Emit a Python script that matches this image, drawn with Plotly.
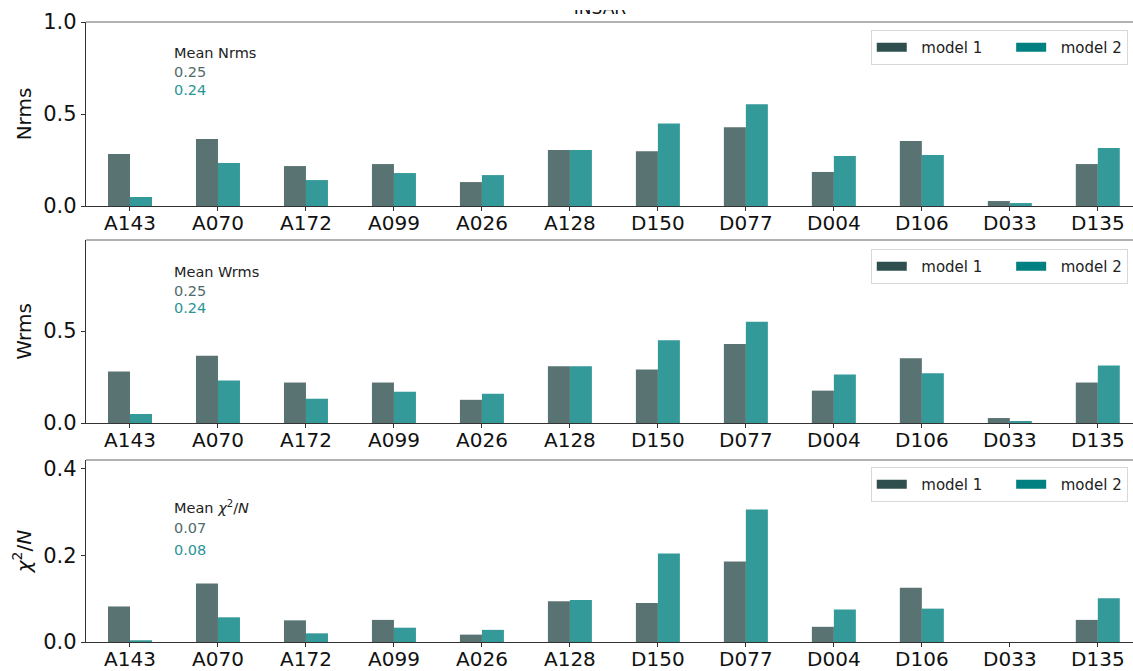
import plotly.graph_objects as go

stations = ["A143", "A070", "A172", "A099", "A026", "A128",
            "D150", "D077", "D004", "D106", "D033", "D135"]

nrms_m1 = [0.283, 0.364, 0.217, 0.228, 0.130, 0.305, 0.297, 0.428, 0.185, 0.353, 0.027, 0.228]
nrms_m2 = [0.049, 0.234, 0.141, 0.179, 0.168, 0.305, 0.449, 0.553, 0.272, 0.277, 0.016, 0.315]

wrms_m1 = [0.280, 0.366, 0.220, 0.220, 0.126, 0.308, 0.291, 0.430, 0.176, 0.352, 0.027, 0.220]
wrms_m2 = [0.049, 0.231, 0.132, 0.170, 0.159, 0.308, 0.450, 0.550, 0.264, 0.270, 0.011, 0.313]

chi2_m1 = [0.082, 0.135, 0.050, 0.051, 0.017, 0.094, 0.090, 0.186, 0.035, 0.125, 0.000, 0.051]
chi2_m2 = [0.004, 0.057, 0.020, 0.033, 0.028, 0.097, 0.204, 0.306, 0.075, 0.077, 0.000, 0.101]

mean_labels = [("Mean Nrms", "0.25", "0.24"),
               ("Mean Wrms", "0.25", "0.24"),
               ("Mean <i>χ</i><sup>2</sup>/<i>N</i>", "0.07", "0.08")]

y_titles = ["Nrms", "Wrms", "<i>χ</i><sup>2</sup>/<i>N</i>"]
y_ranges = [[0, 1.0], [0, 0.995], [0, 0.42]]
y_ticks = [[0, 0.5, 1.0], [0, 0.5], [0, 0.2, 0.4]]

M1_SOLID = "#2f4f4f"
M2_SOLID = "#008080"
M1_BAR = "rgba(47,79,79,0.8)"
M2_BAR = "rgba(0,128,128,0.8)"

W, H = 1133, 671
LEFT = 86
# panel pixel extents (top, bottom)
panels = [(22, 206), (240, 423), (460, 642)]
legend_tops = [30, 249, 467]
text_tops = [(53, 72, 90), (272, 291, 308), (507, 528, 550)]

fig = go.Figure()
font = "DejaVu Sans, sans-serif"

series = [(nrms_m1, nrms_m2), (wrms_m1, wrms_m2), (chi2_m1, chi2_m2)]
layout = {}
shapes = []
annotations = []
plot_w = W - LEFT
NB = "\u00a0\u00a0"
GAP = "\u00a0" * 5

for i, (m1, m2) in enumerate(series):
    n = i + 1
    xa = "x" if n == 1 else f"x{n}"
    ya = "y" if n == 1 else f"y{n}"
    lg = "legend" if n == 1 else f"legend{n}"
    fig.add_trace(go.Bar(x=stations, y=m1, xaxis=xa, yaxis=ya, width=0.25, offset=-0.25,
                         marker=dict(color=M1_BAR, line=dict(width=0)), showlegend=False))
    fig.add_trace(go.Bar(x=stations, y=m2, xaxis=xa, yaxis=ya, width=0.25, offset=0,
                         marker=dict(color=M2_BAR, line=dict(width=0)), showlegend=False))
    fig.add_trace(go.Scatter(x=[None], y=[None], xaxis=xa, yaxis=ya, mode="lines",
                             line=dict(color=M1_SOLID, width=9), name=NB + "model 1" + GAP,
                             legend=lg))
    fig.add_trace(go.Scatter(x=[None], y=[None], xaxis=xa, yaxis=ya, mode="lines",
                             line=dict(color=M2_SOLID, width=9), name=NB + "model 2",
                             legend=lg))

    top, bot = panels[i]
    dom = [1 - bot / H, 1 - top / H]
    xkey = "xaxis" if n == 1 else f"xaxis{n}"
    ykey = "yaxis" if n == 1 else f"yaxis{n}"
    layout[xkey] = dict(domain=[0, 1], anchor=ya, type="category", range=[-0.5, 11.4],
                        showline=True, linecolor="#333", linewidth=1.3,
                        ticks="outside", ticklen=4, tickcolor="#333",
                        tickfont=dict(size=20, color="#111", family=font),
                        ticklabelstandoff=-5,
                        showgrid=False, zeroline=False, fixedrange=True, automargin=False)
    layout[ykey] = dict(domain=dom, anchor=xa, range=y_ranges[i], tickvals=y_ticks[i],
                        tickformat=".1f", showline=True, linecolor="#333", linewidth=1.3,
                        ticks="outside", ticklen=4, tickcolor="#333",
                        tickfont=dict(size=21, color="#111", family=font),
                        title=dict(text=y_titles[i], font=dict(size=20, color="#111", family=font),
                                   standoff=6),
                        showgrid=False, zeroline=False, automargin=False)
    layout[lg] = dict(x=0.995, xanchor="right", y=1 - legend_tops[i] / H, yanchor="top",
                      orientation="h", bgcolor="rgba(255,255,255,0.8)",
                      bordercolor="#d8d8d8", borderwidth=1,
                      font=dict(size=15, color="#222", family=font),
                      itemwidth=30)
    # grey upper frame line
    shapes.append(dict(type="line", xref="paper", x0=0, x1=1,
                       yref=f"{ya} domain", y0=1, y1=1,
                       line=dict(color="#999", width=1.5)))
    head, v1, v2 = mean_labels[i]
    tx = (172 - LEFT) / plot_w
    for txt, py, col in zip((head, v1, v2), text_tops[i], ("#222", "#4f6b6b", "#2a9595")):
        annotations.append(dict(text=txt, xref="paper", yref="paper", x=tx, y=1 - py / H,
                                xanchor="left", yanchor="middle", showarrow=False,
                                font=dict(size=14.5, color=col, family=font)))

# title sits in a thin strip at the top edge; only its lower part is in view
tx_title = (600 - LEFT) / plot_w
fig.add_trace(go.Scatter(x=[0.5], y=[0.0], mode="text", text=["INSAR"],
                         textposition="top center", cliponaxis=True,
                         textfont=dict(size=17, color="#111", family=font),
                         xaxis="x4", yaxis="y4", showlegend=False, hoverinfo="skip"))
strip_top, strip_bot = 10, 18
layout["xaxis4"] = dict(domain=[0, 1], range=[0.5 - tx_title, 0.5 + (1 - tx_title)],
                        visible=False, anchor="y4", automargin=False)
layout["yaxis4"] = dict(domain=[1 - strip_bot / H, 1 - strip_top / H], range=[0, 1],
                        visible=False, anchor="x4", automargin=False)

fig.update_layout(width=W, height=H, margin=dict(l=LEFT, r=0, t=0, b=0, autoexpand=False),
                  plot_bgcolor="rgba(0,0,0,0)", paper_bgcolor="white", barmode="overlay",
                  shapes=shapes, annotations=annotations, **layout)

fig.write_html("out.html")
